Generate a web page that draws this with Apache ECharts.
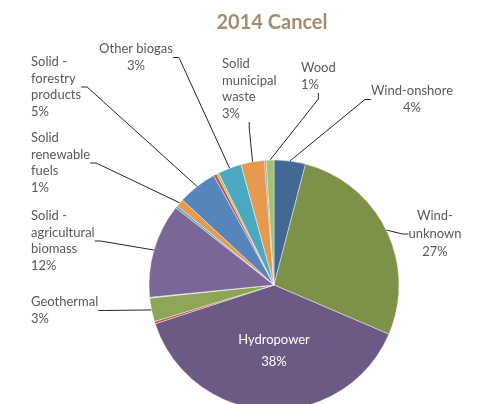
<!DOCTYPE html>
<html>
<head>
<meta charset="utf-8">
<script src="https://cdn.jsdelivr.net/npm/echarts@6/dist/echarts.min.js"></script>
<style>
  html, body { margin: 0; padding: 0; background: #fff; }
  #chart { width: 481px; height: 404px; }
</style>
</head>
<body>
<div id="chart"></div>
<script>
// Renewable generation mix, 2014 (share of total, %), clockwise from 12 o'clock
const categories = [
  'Wind-onshore', 'Wind-unknown', 'Hydropower', 'Minor source 1', 'Geothermal',
  'Minor source 2', 'Solid - agricultural biomass', 'Minor source 3',
  'Solid renewable fuels', 'Solid - forestry products', 'Minor source 4',
  'Minor source 5', 'Other biogas', 'Solid municipal waste', 'Minor source 6', 'Wood'
];
const shares = [4, 27, 38, 0.3, 3, 0.1, 12, 0.3, 1, 5, 0.4, 0.3, 3, 3, 0.2, 1];
// Wrapped label text ('' = slice is not labelled)
const labelNames = [
  'Wind-onshore', 'Wind-\nunknown', 'Hydropower', '', 'Geothermal',
  '', 'Solid -\nagricultural\nbiomass', '',
  'Solid\nrenewable\nfuels', 'Solid -\nforestry\nproducts', '',
  '', 'Other biogas', 'Solid\nmunicipal\nwaste', '', 'Wood'
];
const sliceColors = [
  '#426894', '#7E9149', '#6C5A85', '#C0504D', '#8EA557',
  '#B3A9C4', '#7C6697', '#4CA7C0', '#E59A4E', '#5585BA',
  '#C0504D', '#A6C36A', '#4CA7C0', '#E59A4E', '#5B8FD0', '#A6C36A'
];

// Where each callout sits on the page
const calloutPlacement = {
  'Wind-onshore': { x: 412, y: 83, align: 'center' },
  'Wind-unknown': { x: 435, y: 207, align: 'center' },
  'Hydropower': { x: 274, y: 329, align: 'center' },
  'Geothermal': { x: 31, y: 294, align: 'left' },
  'Solid - agricultural biomass': { x: 31, y: 208, align: 'left' },
  'Solid renewable fuels': { x: 31, y: 130, align: 'left' },
  'Solid - forestry products': { x: 31, y: 54, align: 'left' },
  'Other biogas': { x: 136, y: 41, align: 'center' },
  'Solid municipal waste': { x: 222, y: 56, align: 'left' },
  'Wood': { x: 301, y: 60, align: 'left' }
};

const pieData = categories.map((name, i) => {
  const labelled = labelNames[i] !== '';
  const inside = name === 'Hydropower';
  const item = {
    name: name,
    value: shares[i],
    itemStyle: { color: sliceColors[i] },
    label: { show: labelled },
    labelLine: { show: labelled && !inside }
  };
  if (inside) {
    item.label.color = '#ffffff';
    item.label.lineHeight = 22;
  }
  if (name === 'Wind-unknown') item.label.lineHeight = 18;
  return item;
});

const chart = echarts.init(document.getElementById('chart'), null, { renderer: 'canvas' });
chart.setOption({
  animation: false,
  backgroundColor: '#ffffff',
  title: {
    text: '2014 Cancel',
    left: 267,
    top: 8,
    textAlign: 'center',
    textStyle: {
      fontFamily: 'Lato',
      fontWeight: 'bold',
      fontSize: 20,
      color: '#A38D6F'
    }
  },
  series: [{
    type: 'pie',
    center: [274, 285],
    radius: 125,
    startAngle: 90,
    clockwise: true,
    avoidLabelOverlap: false,
    data: pieData,
    itemStyle: { borderColor: 'rgba(255,255,255,0.7)', borderWidth: 0.6 },
    label: {
      position: 'outside',
      fontFamily: 'Lato',
      fontSize: 13,
      color: '#595959',
      lineHeight: 16.5,
      formatter: (p) => labelNames[p.dataIndex] + '\n' + p.value + '%'
    },
    labelLine: {
      length: 10,
      length2: 6,
      lineStyle: { color: '#262626', width: 1 }
    },
    labelLayout: (params) => {
      const place = calloutPlacement[categories[params.dataIndex]];
      if (!place) return {};
      return {
        x: place.x,
        y: place.y,
        align: place.align,
        verticalAlign: 'top'
      };
    }
  }]
});
</script>
</body>
</html>
